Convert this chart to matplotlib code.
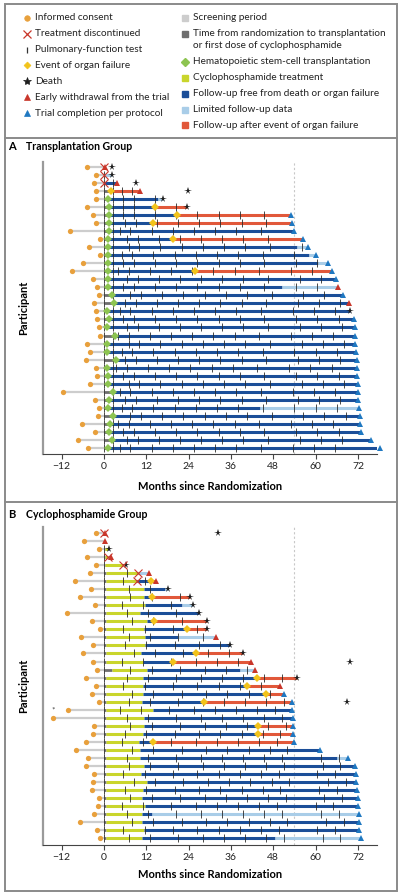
import matplotlib.pyplot as plt

plt.rcParams['font.family'] = ['Lato', 'DejaVu Sans']

# colours
c_consent = '#E8A03C'
c_screen = '#CDCDCD'
c_rand = '#6E6E6E'
c_hsct = '#8DC451'
c_cyc = '#C9D52C'
c_blue = '#1B4E98'
c_limited = '#A9CDE8'
c_red = '#E1583A'
c_event = '#F2C31A'
c_withdraw = '#C9362A'
c_complete = '#1F78C1'
c_death = '#1E1E1E'

# ---- Transplantation group (36 participants, top to bottom) ----
consent_a = [-4.9, -2.3, -2.8, -2.3, -2.3, -4.9, -3.2, -2.3, -9.6, -1.2, -4.2, -1.2,
             -5.9, -9.1, -3.1, -1.9, -1.3, -2.9, -2.3, -1.9, -1.5, -1.0, -4.9, -4.0,
             -5.0, -2.2, -2.0, -4.0, -11.5, -2.6, -1.3, -1.8, -6.2, -2.6, -7.3, -4.4]
tx_a = [0, 0, 0, 2.0, 1.2, 1.3, 1.4, 1.4, 1.4, 1.2, 1.0, 1.0,
        1.0, 1.0, 1.0, 1.0, 2.2, 2.9, 0.8, 1.5, 0.9, 3.1, 0.9, 0.9,
        3.3, 0.9, 1.0, 1.1, 2.6, 1.5, 1.2, 2.6, 1.7, 1.5, 2.2, 1.2]
hsct_a = [None, None, None, None, 1.2, 1.3, 1.4, 1.4, 1.4, 1.2, 1.0, 1.0,
          1.0, 1.0, 1.0, 1.0, 2.2, 2.9, 0.8, 1.5, 0.9, 3.1, 0.9, 0.9,
          3.3, 0.9, 1.0, 1.1, 2.6, 1.5, 1.2, 2.6, 1.7, 1.5, 2.2, 1.2]
event_a = [None, None, None, 2.0, None, 14.5, 20.8, 14.0, None, 19.7, None, None,
           None, 25.8, None, None, None, None, None, None, None, None, None, None,
           None, None, None, None, None, None, None, None, None, None, None, None]
limited_a = [0, 0, None, None, 15.4, None, None, None, None, None, 54.7, 58.0,
             60.8, None, None, 50.4, None, None, None, None, None, None, None, None,
             None, None, None, None, None, None, 44.3, None, None, None, None, None]
end_a = [0.4, 2.2, 3.6, 10.3, 16.6, 23.6, 53.0, 53.3, 54.0, 56.3, 57.7, 60.0,
         63.4, 64.6, 65.8, 66.3, 67.9, 69.6, 69.8, 71.0, 71.2, 71.2, 71.2, 71.5,
         71.7, 71.8, 71.8, 71.9, 72.0, 72.1, 72.4, 72.6, 72.6, 73.0, 75.7, 78.3]
outcome_a = ['W', 'D', 'W', 'W', 'D', 'D', 'C', 'C', 'C', 'C', 'C', 'C',
             'C', 'C', 'C', 'W', 'C', 'W', 'D', 'C', 'C', 'C', 'C', 'C',
             'C', 'C', 'C', 'C', 'C', 'C', 'C', 'C', 'C', 'C', 'C', 'C']
disc_a = [0, 0, 0] + [None] * 33
late_death_a = [2.2, None, 9.1, 23.9] + [None] * 32
pft_a = [0, 2.5, 5, 8, 14, 20, 26, 32, 38, 45, 54, 60, 66]
# approximate per-participant delay of later visits (months)
visit_shift_a = [0, 0, 0, 0, 0.5, 0.5, 0.5, 1.0, -0.5, 1.5, 2.0, 0,
                 0.5, -1.0, 1.5, 0.5, 2.5, 1.0, -0.5, 0.5, 1.5, -1.0, 2.0, 0,
                 1.0, -1.5, 0.5, 2.0, -0.5, 1.0, 0, 2.5, -1.0, 0.5, 1.5, -0.5]

# ---- Cyclophosphamide group (39 participants, top to bottom) ----
consent_b = [-2.3, -5.7, -1.3, -4.9, -2.3, -4.0, -8.2, -3.7, -6.8, -2.6, -10.6, -3.5, -1.1,
             -6.6, -3.2, -5.9, -3.2, -1.9, -5.1, -2.3, -3.4, -1.4, -10.3, -14.5, -2.8, -3.0,
             -5.1, -7.9, -4.6, -5.1, -2.8, -3.0, -3.4, -1.5, -1.7, -2.7, -6.8, -1.9, -1.1]
cyc_start_b = [0, 0, 0.3, 0.3, 0.3, 0.5, 0.5, 0.5, 0.5, 0.5, 0.5, 0.5, 0.5,
               0.5, 0.5, 0.5, 0.5, 2.2, 0.5, 0.5, 0.5, 0.5, 0.5, 0.5, 0.5, 0.5,
               0.5, 0.5, 0.5, 0.5, 0.5, 0.5, 0.5, 0.5, 0.5, 0.5, 0.5, 0.5, 0.5]
cyc_end_b = [0, 0, 1.2, 1.0, 5.5, 9.6, 9.4, 11.2, 11.4, 11.6, 10.2, 12.1, 11.2,
             11.6, 11.6, 10.5, 11.0, 12.1, 11.0, 11.0, 11.0, 10.7, 14.0, 11.2, 11.2, 11.0,
             10.0, 10.3, 10.3, 11.2, 10.6, 12.2, 11.1, 10.7, 11.6, 10.9, 10.9, 11.4, 10.9]
event_b = [None, None, None, None, None, None, 13.2, None, 13.5, None, None, 14.2, 23.5,
           None, None, 26.0, 19.7, None, 43.5, 40.5, 45.9, 28.4, None, None, 43.8, 43.8,
           14.0, None, None, None, None, None, None, None, None, None, None, None, None]
limited_b = [None, None, None, 1.0, 5.5, 9.6, None, 17.3, None, 22.0, None, None, None,
             21.1, None, None, None, 38.6, None, None, None, None, None, None, None, None,
             None, None, 66.2, None, None, None, None, None, None, 13.5, None, None, 48.5]
end_b = [0.3, 0.3, 1.4, 2.0, 6.2, 12.8, 14.8, 18.1, 24.4, 25.3, 27.0, 29.1, 29.1,
         31.8, 35.6, 39.4, 41.7, 42.7, 54.7, 49.9, 50.9, 53.2, 53.2, 53.7, 53.7, 53.7,
         54.0, 61.1, 69.3, 71.2, 71.4, 71.4, 71.6, 72.0, 72.0, 72.2, 72.2, 72.2, 72.9]
outcome_b = ['W', 'W', 'D', 'W', 'D', 'W', 'W', 'D', 'D', 'D', 'D', 'D', 'D',
             'W', 'D', 'D', 'W', 'W', 'D', 'W', 'C', 'C', 'C', 'C', 'C', 'C',
             'C', 'C', 'C', 'C', 'C', 'C', 'C', 'C', 'C', 'C', 'C', 'C', 'C']
disc_b = [0, None, None, 1.0, 5.5, 9.6, 9.4] + [None] * 32
late_death_b = [32.2] + [None] * 15 + [69.8, None, None, None, None, 68.9] + [None] * 17
pft_b = [0, 6, 12, 20, 27, 33, 39, 45, 50, 61, 66]
visit_shift_b = [0, 0, 0, 0, 0, 0.5, -0.5, 1.0, 1.5, -1.0, 0.5, 2.0, -0.5,
                 1.0, 0, 2.5, -1.0, 1.5, 0.5, -0.5, 2.0, 1.0, -1.5, 0.5, 1.5, 0,
                 -1.0, 2.0, 0.5, 1.0, -0.5, 2.5, 0, 1.5, -1.0, 0.5, 2.0, -0.5, 1.0]

xticks = [-12, 0, 12, 24, 36, 48, 60, 72]

W, H = 401, 896
fig = plt.figure(figsize=(W / 100, H / 100), dpi=100)

# overlay in pixel coordinates for frame, legend and titles
ov = fig.add_axes([0, 0, 1, 1], zorder=0)
ov.set_xlim(0, W)
ov.set_ylim(H, 0)
ov.axis('off')
ov.add_patch(plt.Rectangle((4.5, 4.5), W - 9, H - 9, fill=False, ec='#8A8A8A', lw=1.4))
for yy in [138, 502]:
    ov.plot([4.5, W - 4.5], [yy, yy], color='#8A8A8A', lw=1.4)

fs = 7.2
left_items = [('o', c_consent, 'Informed consent', 18),
              ('x', c_withdraw, 'Treatment discontinued', 34),
              ('|', '#333333', 'Pulmonary-function test', 50),
              ('D', c_event, 'Event of organ failure', 65),
              ('*', c_death, 'Death', 81),
              ('^', c_withdraw, 'Early withdrawal from the trial', 97),
              ('^', c_complete, 'Trial completion per protocol', 113)]
for m, c, t, yy in left_items:
    ms = {'o': 4, 'x': 5.5, '|': 5, 'D': 3.5, '*': 6, '^': 5}[m]
    ov.plot(27, yy, marker=m, color=c, ms=ms, mew=0.9 if m in 'x|' else 0.5, ls='none')
    ov.text(35, yy, t, fontsize=fs, va='center', color='#222222')
right_items = [('s', c_screen, 'Screening period', 18),
               ('s', c_rand, 'Time from randomization to transplantation', 34),
               (None, None, 'or first dose of cyclophosphamide', 46),
               ('D', c_hsct, 'Hematopoietic stem-cell transplantation', 62),
               ('s', c_cyc, 'Cyclophosphamide treatment', 78),
               ('s', c_blue, 'Follow-up free from death or organ failure', 94),
               ('s', c_limited, 'Limited follow-up data', 110),
               ('s', c_red, 'Follow-up after event of organ failure', 125)]
for m, c, t, yy in right_items:
    if m:
        ov.plot(185, yy, marker=m, color=c, ms=4.2 if m == 's' else 3.8, ls='none')
    ov.text(193, yy, t, fontsize=fs, va='center', color='#222222')

ov.text(8, 147, 'A', fontsize=8, fontweight='bold', va='center')
ov.text(26, 147, 'Transplantation Group', fontsize=7.6, fontweight='bold', va='center')
ov.text(8, 515, 'B', fontsize=8, fontweight='bold', va='center')
ov.text(26, 515, 'Cyclophosphamide Group', fontsize=7.6, fontweight='bold', va='center')
for yc in [308, 686]:
    ov.text(24, yc, 'Participant', fontsize=8, fontweight='bold', rotation=90,
            ha='center', va='center')
for yy in [487, 874]:
    ov.text(210, yy, 'Months since Randomization', fontsize=8, fontweight='bold',
            ha='center', va='center')


def panel(rect, ylim, consent, start, treat_end, hsct, event, limited, end, outcome,
          disc, late_death, pft, shift, cyclo):
    ax = fig.add_axes(rect, zorder=2)
    ax.patch.set_alpha(0)
    for i in range(len(consent)):
        y = i + 1
        kw = dict(solid_capstyle='butt', zorder=2)
        ax.plot([consent[i], 0], [y, y], color=c_screen, lw=1.6, **kw)
        if start[i] > 0:
            ax.plot([0, start[i]], [y, y], color=c_rand, lw=2.0, **kw)
        if cyclo and treat_end[i] > start[i]:
            ax.plot([start[i], treat_end[i]], [y, y], color=c_cyc, lw=2.2, **kw)
        fu = treat_end[i]
        stops = [v for v in (event[i], limited[i], end[i]) if v is not None]
        stop = min(stops)
        if stop > fu:
            ax.plot([fu, stop], [y, y], color=c_blue, lw=2.2, **kw)
        if event[i] is not None:
            ax.plot([event[i], end[i]], [y, y], color=c_red, lw=2.2, **kw)
        elif limited[i] is not None:
            ax.plot([limited[i], end[i]], [y, y], color=c_limited, lw=2.2, **kw)
        visits = [t if t < 5 else t + shift[i] for t in pft]
        ticks = [t for t in visits if t < end[i] - 0.8]
        ax.plot(ticks, [y] * len(ticks), ls='none', marker='|', ms=5.5, mew=0.6,
                color='#2A2A2A', zorder=3)
        ax.plot(consent[i], y, 'o', color=c_consent, ms=3.8, mew=0, zorder=5)
        if hsct is not None and hsct[i] is not None:
            ax.plot(hsct[i], y, 'D', color=c_hsct, ms=3.6, mew=0, zorder=5)
        if event[i] is not None:
            ax.plot(event[i], y, 'D', color=c_event, ms=3.8, mew=0, zorder=5)
        if disc[i] is not None:
            ax.plot(disc[i], y, 'x', color=c_withdraw, ms=6, mew=0.8, zorder=6)
        if outcome[i] == 'C':
            ax.plot(end[i], y, '^', color=c_complete, ms=5, mew=0, zorder=5, clip_on=False)
        elif outcome[i] == 'W':
            ax.plot(end[i], y, '^', color=c_withdraw, ms=5, mew=0, zorder=5, clip_on=False)
        else:
            ax.plot(end[i], y, '*', color=c_death, ms=5.5, mew=0, zorder=5, clip_on=False)
        if late_death[i] is not None:
            ax.plot(late_death[i], y, '*', color=c_death, ms=5.5, mew=0, zorder=5)
    ax.axvline(54, color='#C8C8C8', lw=0.8, ls=(0, (2, 2)), zorder=0)
    ax.set_xlim(-17.3, 77.4)
    ax.set_ylim(*ylim)
    ax.set_yticks([])
    ax.set_xticks(xticks)
    ax.set_xticklabels([str(t).replace('-', '\u2212') for t in xticks])
    ax.tick_params(axis='x', length=3.5, width=0.8, pad=2.5, labelsize=7.5,
                   color='#444444', labelcolor='#222222')
    for s in ['top', 'right']:
        ax.spines[s].set_visible(False)
    ax.spines['left'].set_color('#9A9A9A')
    ax.spines['left'].set_linewidth(1.6)
    ax.spines['bottom'].set_color('#444444')
    ax.spines['bottom'].set_linewidth(0.8)
    return ax


panel([43 / W, 1 - 454 / H, 334 / W, 292 / H], (36.75, 0.4),
      consent_a, tx_a, tx_a, hsct_a, event_a, limited_a, end_a, outcome_a,
      disc_a, late_death_a, pft_a, visit_shift_a, False)
axb = panel([43 / W, 1 - 845 / H, 334 / W, 318 / H], (39.85, 0.25),
            consent_b, cyc_start_b, cyc_end_b, None, event_b, limited_b, end_b, outcome_b,
            disc_b, late_death_b, pft_b, visit_shift_b, True)
axb.text(consent_b[23], 24 - 0.55, '*', fontsize=6, ha='center', va='bottom', color='#444444')

fig.savefig('out.png', dpi=100)
